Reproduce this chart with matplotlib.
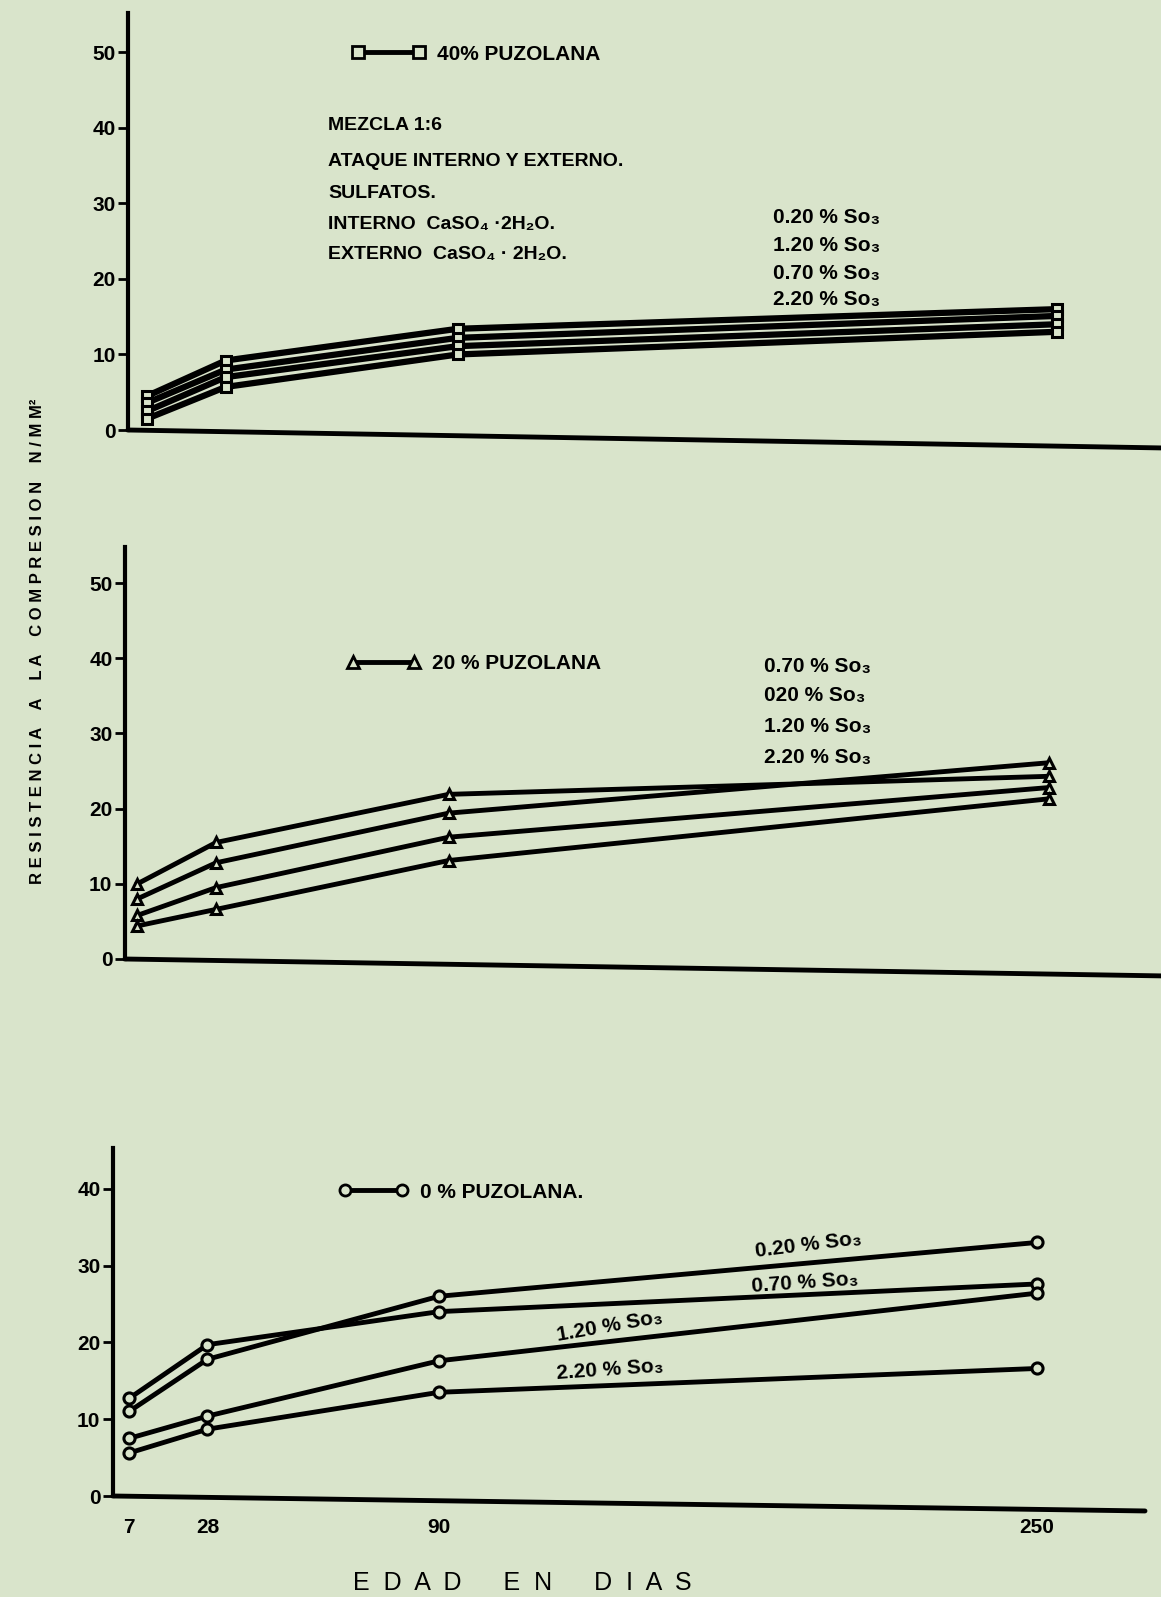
import matplotlib
matplotlib.use("Agg")
import matplotlib.pyplot as plt
from matplotlib.lines import Line2D

plt.rcParams['font.family'] = ['Liberation Sans Narrow', 'Liberation Sans', 'DejaVu Sans']
plt.rcParams['font.weight'] = 'bold'

W, H = 1161, 1597
BG = '#d9e4cb'

# edad en dias
dias = [7, 28, 90, 250]

# 40 % puzolana (cuadrados)
p40_020 = [4.5, 9.2, 13.4, 16.0]
p40_120 = [3.6, 8.0, 12.2, 15.1]
p40_070 = [2.5, 7.0, 11.1, 14.0]
p40_220 = [1.5, 5.7, 10.0, 13.0]

# 20 % puzolana (triangulos)
p20_020 = [10.0, 15.5, 21.9, 24.3]
p20_070 = [8.0, 12.8, 19.4, 26.1]
p20_120 = [5.8, 9.5, 16.2, 22.8]
p20_220 = [4.4, 6.6, 13.1, 21.3]

# 0 % puzolana (circulos)
p0_020 = [11.0, 17.8, 26.0, 33.0]
p0_070 = [12.7, 19.7, 24.0, 27.6]
p0_120 = [7.5, 10.4, 17.6, 26.4]
p0_220 = [5.6, 8.7, 13.5, 16.6]

so3_top = ['0.20 % So₃', '1.20 % So₃', '0.70 % So₃', '2.20 % So₃']
so3_mid = ['0.70 % So₃', '020 % So₃', '1.20 % So₃', '2.20 % So₃']


def px(x, y):
    return x / W, 1 - y / H


def make_axes(left, bottom_y, right, top_y, ymax, yticks, slant):
    l, b = px(left, bottom_y)
    r, t = px(right, top_y)
    ax = fig.add_axes([l, b, r - l, t - b])
    ax.set_facecolor('none')
    for s in ['top', 'right', 'bottom']:
        ax.spines[s].set_visible(False)
    ax.spines['left'].set_linewidth(3)
    ax.set_ylim(0, ymax)
    ax.set_yticks(yticks)
    ax.tick_params(axis='y', length=7, width=2, labelsize=15, pad=2)
    ax.tick_params(axis='x', length=0)
    # eje x algo inclinado como en el original
    ax.plot([0, 1], [0, -slant], transform=ax.transAxes, color='black',
            lw=3.5, clip_on=False, solid_capstyle='round')
    return ax


def series(ax, data, marker, lw, ms):
    for d in data:
        ax.plot(dias, d, color='black', lw=lw, marker=marker, ms=ms,
                mfc=BG, mec='black', mew=2.2, clip_on=False, zorder=3)


def legend_key(ax, marker, text, x, y, length):
    h = Line2D([], [], color='black', lw=3.5, marker=marker, ms=8,
               mfc=BG, mec='black', mew=2)
    fx, fy = px(x, y)
    lg = ax.legend([h], [text], numpoints=2, frameon=False,
                   loc='center left', bbox_to_anchor=(fx, fy),
                   bbox_transform=fig.transFigure, borderaxespad=0,
                   borderpad=0, handlelength=length, handletextpad=0.6,
                   prop={'size': 15, 'weight': 'bold'})
    return lg


def label(x, y, s, size=14, rot=0):
    fx, fy = px(x, y)
    fig.text(fx, fy, s, ha='left', va='center', fontsize=size,
             fontweight='bold', rotation=rot, rotation_mode='anchor')


fig = plt.figure(figsize=(W / 100, H / 100), dpi=100, facecolor=BG)

# ---- panel superior: 40 % puzolana
ax1 = make_axes(128, 430, 1161, 13, 55.2, [0, 10, 20, 30, 40, 50], 0.043)
ax1.set_xlim(1.9, 277.8)
ax1.set_xticks([])
series(ax1, [p40_020, p40_120, p40_070, p40_220], 's', 4.5, 7)
legend_key(ax1, 's', '40% PUZOLANA', 352, 54, 3.5)
label(328, 125, 'MEZCLA 1:6')
label(328, 162, 'ATAQUE INTERNO Y EXTERNO.')
label(328, 193, 'SULFATOS.')
label(328, 224, 'INTERNO  CaSO₄ ·2H₂O.')
label(328, 254, 'EXTERNO  CaSO₄ · 2H₂O.')
for s, y in zip(so3_top, [217, 245, 274, 299]):
    label(773, y, s, size=15)

# ---- panel central: 20 % puzolana
ax2 = make_axes(125, 959, 1161, 547, 54.8, [0, 10, 20, 30, 40, 50], 0.041)
ax2.set_xlim(3.7, 280)
ax2.set_xticks([])
series(ax2, [p20_020, p20_070, p20_120, p20_220], '^', 3.5, 7)
legend_key(ax2, '^', '20 % PUZOLANA', 347, 664, 3.5)
for s, y in zip(so3_mid, [667, 695, 727, 757]):
    label(764, y, s, size=15)

# ---- panel inferior: 0 % puzolana
ax3 = make_axes(113, 1496, 1145, 1148, 45.3, [0, 10, 20, 30, 40], 0.043)
ax3.set_xlim(2.7, 279)
ax3.set_xticks(dias)
ax3.tick_params(axis='x', labelsize=15, pad=16)
series(ax3, [p0_020, p0_070, p0_120, p0_220], 'o', 3.5, 8)
legend_key(ax3, 'o', '0 % PUZOLANA.', 339, 1192, 3.3)
label(755, 1252, '0.20 % So₃', size=15, rot=7)
label(752, 1287, '0.70 % So₃', size=15, rot=4)
label(557, 1336, '1.20 % So₃', size=15, rot=10)
label(557, 1374, '2.20 % So₃', size=15, rot=4)

# titulos de los ejes
fx, fy = px(38, 641)
fig.text(fx, fy, 'R E S I S T E N C I A    A    L A    C O M P R E S I O N    N / M M²',
         rotation=90, ha='center', va='center', fontsize=12, fontweight='bold')
fx, fy = px(522, 1583)
fig.text(fx, fy, 'E  D  A  D      E  N      D  I  A  S', ha='center', va='center',
         fontsize=18, fontweight='normal')

fig.savefig('out.png', dpi=100, facecolor=BG)
